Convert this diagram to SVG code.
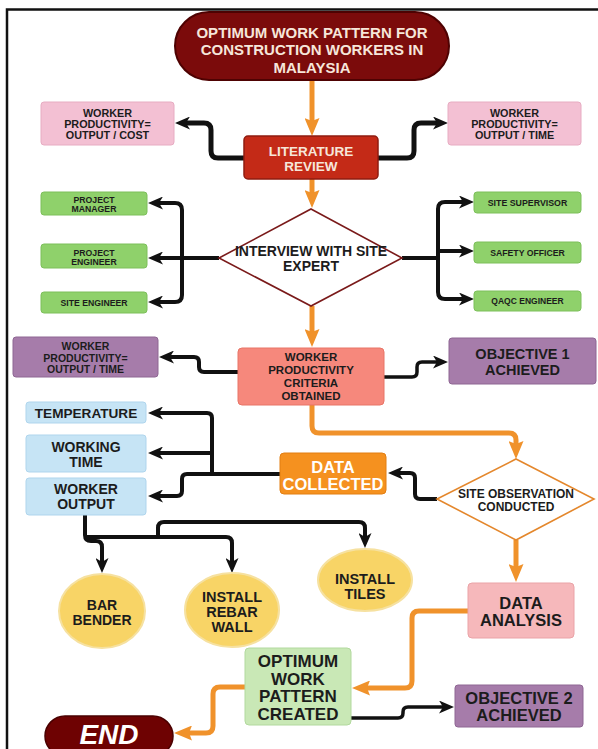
<svg xmlns="http://www.w3.org/2000/svg" width="598" height="749" viewBox="0 0 598 749">
<style>
text{font-family:"Liberation Sans",Arial,sans-serif;font-weight:bold;text-anchor:middle;fill:#1c1c1c}
.lt{fill:#f6e6da}
.wt{fill:#ffffff}
.blk{fill:none;stroke:#111;stroke-width:4;stroke-linejoin:round}
.org{fill:none;stroke:#f0922b;stroke-width:5;stroke-linejoin:round}
.pink{fill:#f3c0d3;stroke:#e7acc2;stroke-width:1}
.green{fill:#8fd16b;stroke:#7dbf5b;stroke-width:1}
.purple{fill:#a67caa;stroke:#8e6693;stroke-width:1}
.blue{fill:#c6e4f5;stroke:#afd5ed;stroke-width:1}
.yel{fill:#f8d466;stroke:#f6e1a0;stroke-width:2}
</style>
<defs>
<marker id="ab" markerUnits="userSpaceOnUse" markerWidth="15" markerHeight="13" refX="6" refY="6.5" orient="auto"><path d="M0,0 L15,6.5 L0,13 L4,6.5 Z" fill="#111"/></marker>
<marker id="ao" markerUnits="userSpaceOnUse" markerWidth="18" markerHeight="15" refX="8" refY="7.5" orient="auto"><path d="M0,0 L18,7.5 L0,15 L3,7.5 Z" fill="#f0922b"/></marker>
</defs>
<rect width="598" height="749" fill="#ffffff"/>
<path d="M7,760 L7,9.5 L600,9.5" fill="none" stroke="#111" stroke-width="2.5"/>

<g id="connectors">
<path class="org" d="M312,80 L312,126" marker-end="url(#ao)"/>
<path class="org" d="M312,179 L312,198" marker-end="url(#ao)"/>
<path class="org" d="M312,306 L312,337" marker-end="url(#ao)"/>
<path class="org" d="M312,405 L312,426 Q312,433 319,433 L509,433 Q516,433 516,440 L516,449" marker-end="url(#ao)"/>
<path class="org" d="M516,540 L516,572" marker-end="url(#ao)"/>
<path class="org" d="M468,611 L419,611 Q412,611 412,618 L412,681 Q412,688 405,688 L362,688" marker-end="url(#ao)"/>
<path class="org" d="M245,687 L220,687 Q213,687 213,694 L213,726 Q213,733 206,733 L184,733" marker-end="url(#ao)"/>

<path class="blk" style="stroke-width:5" d="M244,158 L218,158 Q211,158 211,151 L211,130 Q211,123 204,123 L184,123" marker-end="url(#ab)"/>
<path class="blk" style="stroke-width:5" d="M378,158 L407,158 Q414,158 414,151 L414,130 Q414,123 421,123 L439,123" marker-end="url(#ab)"/>

<path class="blk" d="M182,258 L182,210 Q182,203 175,203 L157,203" marker-end="url(#ab)"/>
<path class="blk" d="M219,258 L157,258" marker-end="url(#ab)"/>
<path class="blk" d="M182,258 L182,295 Q182,302 175,302 L157,302" marker-end="url(#ab)"/>

<path class="blk" d="M402,258 L438,258 L438,209 Q438,202 445,202 L465,202" marker-end="url(#ab)"/>
<path class="blk" d="M438,251 L465,251" marker-end="url(#ab)"/>
<path class="blk" d="M438,258 L438,292 Q438,299 445,299 L465,299" marker-end="url(#ab)"/>

<path class="blk" d="M238,372 L204,372 Q199,372 199,367 L199,362 Q199,357 194,357 L168,357" marker-end="url(#ab)"/>
<path class="blk" style="stroke-width:3.5" d="M384,377 L412,377 Q417,377 417,372 L417,367 Q417,362 422,362 L439,362" marker-end="url(#ab)"/>

<path class="blk" d="M437,499 L420,499 Q415,499 415,494 L415,478 Q415,473 410,473 L397,473" marker-end="url(#ab)"/>

<path class="blk" d="M280,474 L212,474 L212,418 Q212,413 207,413 L157,413" marker-end="url(#ab)"/>
<path class="blk" d="M212,453 L157,453" marker-end="url(#ab)"/>
<path class="blk" d="M212,474 L187,474 Q182,474 182,479 L182,491 Q182,496 177,496 L157,496" marker-end="url(#ab)"/>

<path class="blk" d="M85,515 L85,535 Q85,541 91,541 L96,541 Q102,541 102,547 L102,564" marker-end="url(#ab)"/>
<path class="blk" d="M85,537 L226,537 Q232,537 232,543 L232,564" marker-end="url(#ab)"/>
<path class="blk" d="M158,537 L158,528 Q158,522 164,522 L359,522 Q365,522 365,528 L365,539" marker-end="url(#ab)"/>

<path class="blk" style="stroke-width:3.5" d="M351,718 L398,718 Q403,718 403,713 L403,712 Q403,707 408,707 L445,707" marker-end="url(#ab)"/>
</g>

<g id="title">
<rect x="175" y="12" width="274" height="68" rx="34" fill="#7b0b0b" stroke="#4e0202" stroke-width="2"/>
<text class="lt" font-size="15" x="312" y="37.5">OPTIMUM WORK PATTERN FOR</text>
<text class="lt" font-size="15" x="312" y="55">CONSTRUCTION WORKERS IN</text>
<text class="lt" font-size="15" x="312" y="72.5">MALAYSIA</text>
</g>

<g id="literature-review">
<rect x="244" y="136" width="134" height="43" rx="4" fill="#c42a17" stroke="#8f1c10" stroke-width="1.5"/>
<text class="lt" font-size="13.5" x="311" y="156">LITERATURE</text>
<text class="lt" font-size="13.5" x="311" y="171">REVIEW</text>
</g>

<g id="wp-output-cost">
<rect class="pink" x="41" y="102" width="133" height="43" rx="3"/>
<text font-size="10.8" x="107.5" y="117">WORKER</text>
<text font-size="10.8" x="107.5" y="128">PRODUCTIVITY=</text>
<text font-size="10.8" x="107.5" y="139">OUTPUT / COST</text>
</g>

<g id="wp-output-time-1">
<rect class="pink" x="448" y="102" width="133" height="43" rx="3"/>
<text font-size="10.8" x="514.5" y="117">WORKER</text>
<text font-size="10.8" x="514.5" y="128">PRODUCTIVITY=</text>
<text font-size="10.8" x="514.5" y="139">OUTPUT / TIME</text>
</g>

<g id="interview">
<polygon points="311,209 402,258 311,306 219,258" fill="#ffffff" stroke="#7a1a1a" stroke-width="1.6"/>
<text font-size="14" x="311" y="256">INTERVIEW WITH SITE</text>
<text font-size="14" x="311" y="271">EXPERT</text>
</g>

<g id="project-manager">
<rect class="green" x="41" y="192" width="106" height="23" rx="3"/>
<text font-size="8.7" x="94" y="202.5">PROJECT</text>
<text font-size="8.7" x="94" y="211.5">MANAGER</text>
</g>
<g id="project-engineer">
<rect class="green" x="41" y="244" width="106" height="24" rx="3"/>
<text font-size="8.7" x="94" y="255.5">PROJECT</text>
<text font-size="8.7" x="94" y="264.5">ENGINEER</text>
</g>
<g id="site-engineer">
<rect class="green" x="41" y="292" width="106" height="21" rx="3"/>
<text font-size="8.7" x="94" y="305.5">SITE ENGINEER</text>
</g>

<g id="site-supervisor">
<rect class="green" x="474" y="192" width="107" height="21" rx="3"/>
<text font-size="8.8" x="527.5" y="205.5">SITE SUPERVISOR</text>
</g>
<g id="safety-officer">
<rect class="green" x="474" y="242" width="107" height="21" rx="3"/>
<text font-size="8.7" x="527.5" y="255.5">SAFETY OFFICER</text>
</g>
<g id="qaqc-engineer">
<rect class="green" x="474" y="291" width="107" height="20" rx="3"/>
<text font-size="8.5" x="527.5" y="304">QAQC ENGINEER</text>
</g>

<g id="criteria">
<rect x="238" y="348" width="146" height="57" rx="4" fill="#f6887c" stroke="#e87567" stroke-width="1"/>
<text font-size="11.5" x="311" y="361">WORKER</text>
<text font-size="11.5" x="311" y="374">PRODUCTIVITY</text>
<text font-size="11.5" x="311" y="387">CRITERIA</text>
<text font-size="11.5" x="311" y="400">OBTAINED</text>
</g>

<g id="wp-output-time-2">
<rect class="purple" x="13" y="337" width="145" height="40" rx="3"/>
<text font-size="10.5" x="85.5" y="350">WORKER</text>
<text font-size="10.5" x="85.5" y="361.5">PRODUCTIVITY=</text>
<text font-size="10.5" x="85.5" y="373">OUTPUT / TIME</text>
</g>

<g id="objective-1">
<rect class="purple" x="449" y="338" width="147" height="46" rx="3"/>
<text font-size="14.5" x="522.5" y="359">OBJECTIVE 1</text>
<text font-size="14.5" x="522.5" y="375">ACHIEVED</text>
</g>

<g id="site-observation">
<polygon points="516,459 594,499 516,540 437,499" fill="#ffffff" stroke="#e4872c" stroke-width="1.6"/>
<text font-size="12" x="516" y="497.5">SITE OBSERVATION</text>
<text font-size="12" x="516" y="510.5">CONDUCTED</text>
</g>

<g id="data-collected">
<rect x="280" y="453" width="106" height="41" rx="4" fill="#f5911f" stroke="#e27e12" stroke-width="1"/>
<text class="wt" font-size="16.5" x="333" y="473">DATA</text>
<text class="wt" font-size="16.5" x="333" y="490">COLLECTED</text>
</g>

<g id="temperature">
<rect class="blue" x="26" y="402" width="120" height="21" rx="3"/>
<text font-size="13.6" x="86" y="417.5">TEMPERATURE</text>
</g>
<g id="working-time">
<rect class="blue" x="26" y="435" width="120" height="37" rx="3"/>
<text font-size="14" x="86" y="452">WORKING</text>
<text font-size="14" x="86" y="467">TIME</text>
</g>
<g id="worker-output">
<rect class="blue" x="26" y="478" width="120" height="37" rx="3"/>
<text font-size="14" x="86" y="494">WORKER</text>
<text font-size="14" x="86" y="509">OUTPUT</text>
</g>

<g id="bar-bender">
<ellipse class="yel" cx="102" cy="611" rx="43" ry="37"/>
<text font-size="14" x="102" y="610">BAR</text>
<text font-size="14" x="102" y="625">BENDER</text>
</g>
<g id="install-rebar-wall">
<ellipse class="yel" cx="232" cy="610" rx="47" ry="37"/>
<text font-size="14.5" x="232" y="602">INSTALL</text>
<text font-size="14.5" x="232" y="617">REBAR</text>
<text font-size="14.5" x="232" y="632">WALL</text>
</g>
<g id="install-tiles">
<ellipse class="yel" cx="365" cy="580" rx="47" ry="31"/>
<text font-size="14.5" x="365" y="584">INSTALL</text>
<text font-size="14.5" x="365" y="599">TILES</text>
</g>

<g id="data-analysis">
<rect x="468" y="583" width="106" height="55" rx="4" fill="#f6b8bb" stroke="#eaa3a7" stroke-width="1"/>
<text font-size="16.5" x="521" y="608.5">DATA</text>
<text font-size="16.5" x="521" y="626">ANALYSIS</text>
</g>

<g id="optimum-created">
<rect x="245" y="648" width="106" height="77" rx="4" fill="#c9e8b6" stroke="#b2d99e" stroke-width="1"/>
<text font-size="17" x="298" y="667">OPTIMUM</text>
<text font-size="17" x="298" y="684.5">WORK</text>
<text font-size="17" x="298" y="702">PATTERN</text>
<text font-size="17" x="298" y="719.5">CREATED</text>
</g>

<g id="objective-2">
<rect class="purple" x="455" y="685" width="128" height="42" rx="3"/>
<text font-size="16.5" x="519" y="703.5">OBJECTIVE 2</text>
<text font-size="16.5" x="519" y="721">ACHIEVED</text>
</g>

<g id="end">
<rect x="45" y="716" width="128" height="40" rx="20" fill="#6e0202" stroke="#4a0000" stroke-width="1.5"/>
<text class="wt" font-size="28" font-style="italic" x="109" y="744">END</text>
</g>
</svg>
